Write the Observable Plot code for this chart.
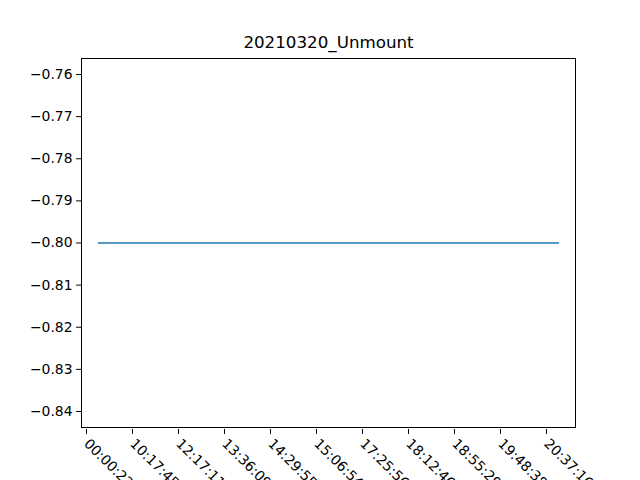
<!DOCTYPE html>
<html><head><meta charset="utf-8">
<script src="https://cdn.jsdelivr.net/npm/d3@7"></script>
<script src="https://cdn.jsdelivr.net/npm/@observablehq/plot@0.6"></script>
<style>body{margin:0;background:#fff}svg{font-family:"DejaVu Sans";}</style>
</head><body><div id="c"></div>
<script>
const times = ["00:00:22","10:17:45","12:17:11","13:36:09","14:29:55","15:06:54","17:25:56","18:12:46","18:55:29","19:48:38","20:37:16"];
const values = [-0.8,-0.8,-0.8,-0.8,-0.8,-0.8,-0.8,-0.8,-0.8,-0.8,-0.8];
const yTicks = [-0.76,-0.77,-0.78,-0.79,-0.80,-0.81,-0.82,-0.83,-0.84];
const data = times.map((t,i)=>({t, v: values[i]}));
const chart = Plot.plot({
  width:640, height:480,
  marginLeft:81, marginRight:65, marginTop:58, marginBottom:53,
  style:{fontSize:"13.9px", fontFamily:"DejaVu Sans", overflow:"hidden"},
  x:{type:"point", domain:times, padding:0.3, label:null},
  y:{domain:[-0.8438,-0.7562], label:null},
  marks:[
    Plot.frame({stroke:"#000"}),
    Plot.axisX({ticks:times, tickRotate:45, tickSize:4.9, textAnchor:"start", dx:-12, dy:2, fill:"#000"}),
    Plot.axisY({ticks:yTicks, tickSize:4.9, tickFormat:d=>d.toFixed(2).replace("-","\u2212"), fill:"#000"}),
    Plot.lineY(data,{x:"t", y:"v", stroke:"#1f77b4", strokeWidth:1.5}),
    Plot.text(["20210320_Unmount"],{frameAnchor:"top", dy:-22, fontSize:16.7, fill:"#000"})
  ]
});
document.getElementById("c").append(chart);
</script></body></html>
